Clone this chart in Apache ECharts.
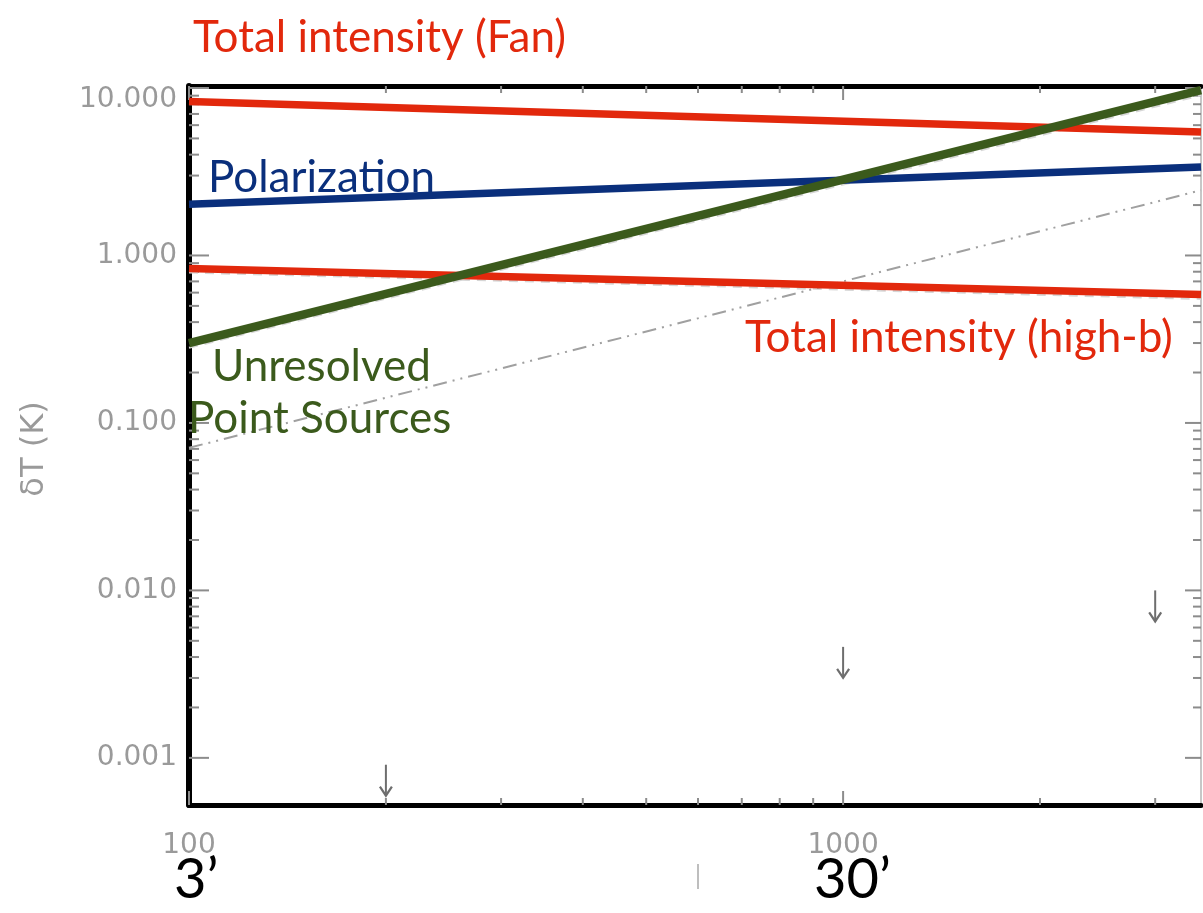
<!DOCTYPE html>
<html>
<head>
<meta charset="utf-8">
<style>
  html, body { margin: 0; padding: 0; background: #fff; }
  #chart { width: 1203px; height: 913px; }
</style>
<script src="https://cdn.jsdelivr.net/npm/echarts@6/dist/echarts.min.js"></script>
</head>
<body>
<div id="chart"></div>
<script>
// Multipole (ell) range shown on the log x axis and the dT range on the log y axis
const ellRange = [100, 3525];
const dTRange = [0.000523, 10.28];

// Power-law foregrounds: dT (K) at the two ends of the ell range
const fanTotal = [8.3, 5.47];
const polarization = [2.02, 3.38];
const highBTotal = [0.836, 0.584];
const pointSources = [0.30, 9.7];
const modelDashDot = [0.071, 2.45];
const modelUnderSources = [0.281, 9.05];
const modelUnderHighB = [0.79, 0.55];

// Upper limits (arrows)
const limitEll = [200, 1000, 3000];
const limitdT = [0.00091, 0.0046, 0.0100];

// Tick values
const xMajorTicks = [100, 1000];
const xMinorTicks = [200, 300, 400, 500, 600, 700, 800, 900, 2000, 3000];
const yMajorTicks = [0.001, 0.01, 0.1, 1, 10];
const yMinorTicks = [];
[0.001, 0.01, 0.1, 1].forEach(d => { for (let m = 2; m <= 9; m++) yMinorTicks.push(+(m * d).toPrecision(3)); });

// Axis title and angular scale markers under the x axis
const yTitle = '\u03b4T (K)';
const scaleMarks = ['3\u2019', '30\u2019'];

const RED = '#e2280c', BLUE = '#0a2f7c', GREEN = '#3b5a1c', TICK = '#8c8c8c';

function pairSeries(ys) { return [[ellRange[0], ys[0]], [ellRange[1], ys[1]]]; }

// tick records: [x, y, major, side] side 0=left 1=right 2=bottom 3=top
const tickData = [];
yMajorTicks.forEach(v => { tickData.push([ellRange[0], v, 1, 0]); tickData.push([ellRange[1], v, 1, 1]); });
yMinorTicks.forEach(v => { tickData.push([ellRange[0], v, 0, 0]); tickData.push([ellRange[1], v, 0, 1]); });
xMajorTicks.forEach(v => { tickData.push([v, dTRange[0], 1, 2]); tickData.push([v, dTRange[1], 1, 3]); });
xMinorTicks.forEach(v => { tickData.push([v, dTRange[0], 0, 2]); tickData.push([v, dTRange[1], 0, 3]); });

function isDecade(v) {
  const l = Math.log10(v);
  return Math.abs(l - Math.round(l)) < 1e-6;
}

function lineSeries(name, ys, color, width, type, z) {
  return {
    name, type: 'line', data: pairSeries(ys), showSymbol: false, symbol: 'none',
    clip: true, z: z || 3, silent: true,
    lineStyle: { color, width, type: type || 'solid', cap: 'butt' }
  };
}

function label(text, x, y, color, size) {
  return {
    type: 'text', x, y, z: 10, silent: true,
    style: { text, fill: color, fontFamily: 'Lato', fontSize: size, align: 'left', verticalAlign: 'middle' }
  };
}

const chart = echarts.init(document.getElementById('chart'), null, { renderer: 'canvas' });

const option = {
  animation: false,
  backgroundColor: '#ffffff',
  grid: { left: 189, right: 2, top: 86, bottom: 108, containLabel: false },
  xAxis: [{
    type: 'log', logBase: 10, min: ellRange[0], max: ellRange[1],
    axisLine: { show: true, lineStyle: { color: '#000', width: 5 } },
    axisTick: { show: false }, splitLine: { show: false }, minorTick: { show: false },
    axisLabel: {
      show: true, margin: 27, color: '#9a9a9a',
      fontFamily: 'DejaVu Sans', fontSize: 28,
      formatter: v => isDecade(v) ? String(Math.round(v)) : '',
      showMinLabel: true, showMaxLabel: false
    }
  }, {
    type: 'log', logBase: 10, min: ellRange[0], max: ellRange[1], position: 'top',
    axisLine: { show: true, lineStyle: { color: '#000', width: 5 } },
    axisTick: { show: false }, axisLabel: { show: false }, splitLine: { show: false }
  }],
  yAxis: [{
    type: 'log', logBase: 10, min: dTRange[0], max: dTRange[1],
    axisLine: { show: true, lineStyle: { color: '#000', width: 6 } },
    axisTick: { show: false }, splitLine: { show: false },
    axisLabel: {
      show: true, margin: 12, color: '#9a9a9a',
      fontFamily: 'DejaVu Sans', fontSize: 28, lineHeight: 24,
      formatter: v => {
        if (!isDecade(v)) return '';
        const s = (Math.pow(10, Math.round(Math.log10(v)))).toFixed(3);
        return v > 5 ? '\n' + s : s;
      },
      showMinLabel: false, showMaxLabel: true
    }
  }, {
    type: 'log', logBase: 10, min: dTRange[0], max: dTRange[1], position: 'right',
    axisLine: { show: true, lineStyle: { color: '#b5b5b5', width: 1.5 } },
    axisTick: { show: false }, axisLabel: { show: false }, splitLine: { show: false }
  }],
  series: [
    {
      name: 'ticks', type: 'custom', data: tickData, z: 1, silent: true,
      renderItem: (params, api) => {
        const p = api.coord([api.value(0), api.value(1)]);
        const major = api.value(2) === 1;
        const side = api.value(3);
        let len, x2 = p[0], y2 = p[1];
        if (side === 0) { len = major ? 20 : 10; x2 = p[0] + len; }
        else if (side === 1) { len = major ? 16 : 8; x2 = p[0] - len; }
        else if (side === 2) { len = major ? 14 : 7; y2 = p[1] - len; }
        else { len = major ? 14 : 7; y2 = p[1] + len; }
        return {
          type: 'line',
          shape: { x1: p[0], y1: p[1], x2, y2 },
          style: { stroke: TICK, lineWidth: 2 }
        };
      }
    },
    lineSeries('model under sources', modelUnderSources, '#d6d6d6', 2, [9, 7], 2),
    lineSeries('model under high-b', modelUnderHighB, '#d6d6d6', 2, [9, 7], 2),
    lineSeries('model dash-dot', modelDashDot, '#a0a0a0', 2, [14, 6, 2, 6, 2, 6], 2),
    lineSeries('Total intensity (Fan)', fanTotal, RED, 7.5),
    lineSeries('Total intensity (high-b)', highBTotal, RED, 7.5),
    lineSeries('Polarization', polarization, BLUE, 7.5),
    lineSeries('Unresolved Point Sources', pointSources, GREEN, 8.5, 'solid', 4),
    {
      name: 'upper limits', type: 'custom', silent: true, z: 3,
      data: limitEll.map((e, i) => [e, limitdT[i]]),
      renderItem: (params, api) => {
        const p = api.coord([api.value(0), api.value(1)]);
        const L = 31;
        return {
          type: 'group',
          children: [
            { type: 'line', shape: { x1: p[0], y1: p[1], x2: p[0], y2: p[1] + L },
              style: { stroke: '#6e6e6e', lineWidth: 2 } },
            { type: 'polyline', shape: { points: [[p[0] - 6, p[1] + L - 9], [p[0], p[1] + L], [p[0] + 6, p[1] + L - 9]] },
              style: { stroke: '#6e6e6e', lineWidth: 2.2, fill: null } }
          ]
        };
      }
    }
  ],
  graphic: [
    { type: 'text', x: 35, y: 449, rotation: Math.PI / 2, z: 10, silent: true,
      style: { text: yTitle, fill: '#9a9a9a', fontFamily: 'DejaVu Sans', fontSize: 32, align: 'center', verticalAlign: 'middle' } },
    label('Total intensity (Fan)', 193, 38, RED, 44),
    label('Polarization', 208, 178, BLUE, 44),
    label('Total intensity (high-b)', 745, 338, RED, 44),
    label('Unresolved', 212, 367, GREEN, 44),
    label('Point Sources', 188, 419, GREEN, 44),
    label(scaleMarks[0], 174, 880, '#000', 56),
    label(scaleMarks[1], 814, 880, '#000', 56),
    { type: 'line', z: 10, silent: true,
      shape: { x1: 698, y1: 864, x2: 698, y2: 889 }, style: { stroke: '#a8a8a8', lineWidth: 1.5 } }
  ]
};

chart.setOption(option);
</script>
</body>
</html>
